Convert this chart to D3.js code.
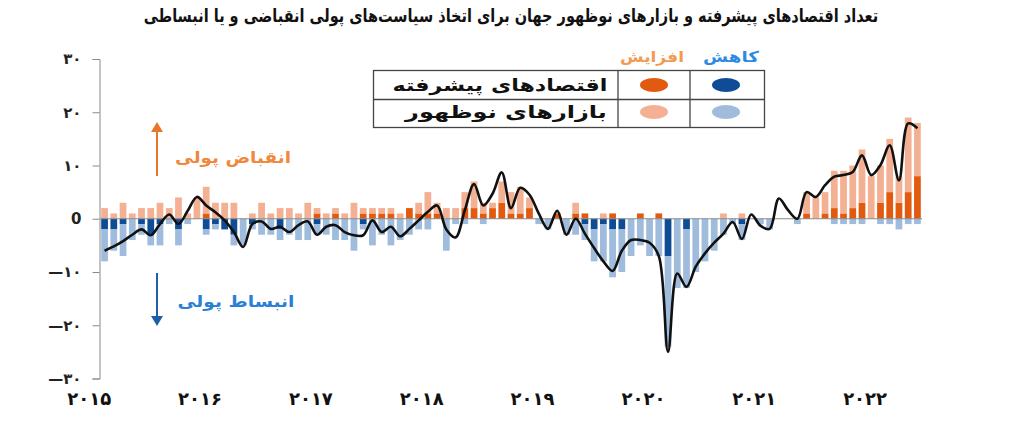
<!DOCTYPE html>
<html><head><meta charset="utf-8">
<script src="https://cdn.jsdelivr.net/npm/d3@7"></script>
<style>body{margin:0;background:#fff;} svg{display:block;}</style>
</head><body>
<svg id="c" width="1024" height="424"></svg>
<script>
// ---- data ----
const titleText = "تعداد اقتصادهای پیشرفته و بازارهای نوظهور جهان برای اتخاذ سیاست‌های پولی انقباضی و یا انبساطی";
const months = [];
for (let yr = 2015; yr <= 2022; yr++) for (let m = 1; m <= 12; m++) if (months.length < 89) months.push(yr + "-" + String(m).padStart(2, "0"));
const yearLabels = ["۲۰۱۵","۲۰۱۶","۲۰۱۷","۲۰۱۸","۲۰۱۹","۲۰۲۰","۲۰۲۱","۲۰۲۲"];
const yTicks = [30, 20, 10, 0, -10, -20, -30];
const yTickLabels = ["۳۰","۲۰","۱۰","0","—۱۰","—۲۰","—۳۰"];
const seriesNames = ["اقتصادهای پیشرفته", "بازارهای نوظهور"];
const legendHeads = ["افزایش", "کاهش"];
const annoUp = "انقباض پولی";
const annoDown = "انبساط پولی";
// advanced economies, tightening (increase)
const advInc = [
0,0,0,0,0,0,0,0,0,0,
0,1,0,0,0,0,0,0,0,0,
0,0,0,1,0,1,0,0,1,1,
1,1,0,2,1,1,1,0,0,2,
2,1,2,3,1,1,2,0,0,1,
0,1,1,0,0,1,0,0,1,0,
1,0,0,0,0,0,0,0,0,0,
0,0,0,0,0,0,1,0,1,2,
1,2,3,0,3,5,3,5,8];
// emerging markets, tightening (increase)
const emInc = [
2,1,3,1,2,2,3,2,4,1,
4,5,3,3,3,0,1,3,1,2,
2,1,3,1,1,1,1,3,1,1,
1,1,1,0,2,4,2,2,2,3,
5,2,1,4,4,5,2,0,0,0,
0,2,0,0,1,0,0,0,0,0,
0,0,0,0,0,0,0,1,0,1,
0,0,0,0,0,0,4,4,4,7,
8,8,10,8,7,10,5,14,10];
// advanced economies, easing (decrease)
const advDec = [
-2,-2,-1,0,-1,-3,-1,0,-2,0,
0,-2,-1,-2,-3,0,-1,0,0,-2,
0,0,0,-1,0,0,0,0,-1,0,
0,0,0,0,0,0,0,0,0,0,
0,0,0,0,0,0,0,0,0,0,
0,0,-1,-2,-1,-2,-2,0,0,0,
0,-7,0,-2,0,0,0,0,0,-1,
0,0,0,0,0,0,0,0,0,0,
0,0,0,0,0,0,0,0,0];
// emerging markets, easing (decrease)
const emDec = [
-6,-4,-6,-4,-2,-2,-4,-1,-3,-1,
0,-1,-1,0,-2,-5,-1,-3,-3,-2,
-3,-4,-4,-2,-3,-4,-4,-6,-1,-5,
-3,-5,-4,-3,-2,-2,0,-6,-1,-1,
0,-1,0,0,0,0,0,-1,-2,0,
-3,-3,-3,-6,-7,-9,-8,-7,-5,-7,
-7,-17,-13,-11,-10,-8,-6,-3,-1,-3,
0,-1,-2,0,0,-1,0,0,0,-1,
-1,-1,-1,0,-1,-1,-2,-1,-1];
// net trend line
const netTrend = [
-6,-5.2,-4.2,-3,-2,-3.1,-1,0.8,-1,1.5,
4.1,2.5,1.2,-0.3,-2.5,-5.3,-1,-0.5,-1.9,-1.5,
-2.5,-1.2,-0.5,-3,-1.5,-1.2,-2.5,-3.1,-3.1,-0.3,
-2.5,-1.5,-3.3,-1.9,-0.3,1.3,2.5,-2,-3.5,1.6,
6.5,2.5,4.7,8.7,2,5.8,4.5,1,-1.9,1.5,
-3,0,-2.8,-5.5,-8,-9.8,-6,-4,-4,-4.5,
-7,-25,-10.3,-12.8,-9,-6.5,-4.5,-2.8,-0.6,-3.8,
0.8,-1.3,-1.9,3.8,1.6,0,5,4.1,6.3,7.9,
8.2,8.8,11.9,8.2,10.1,13.8,7.2,17.9,17];

const colors = {advInc:"#e25a10", emInc:"#f4b092", advDec:"#0e4d96", emDec:"#9fbcdc"};
const FONT = "'DejaVu Sans', sans-serif";

const svg = d3.select("#c");
svg.append("rect").attr("width",1024).attr("height",424).attr("fill","#fff");

const x = d3.scaleBand().domain(d3.range(months.length)).range([100, 922]).paddingInner(0.27).paddingOuter(0.13);
const y = d3.scaleLinear().domain([-30, 30]).range([378.5, 59]);
const bw = x.bandwidth();

function fitText(sel, str, cx, cy, w, size, color) {
  const t = sel.append("text").text(str)
    .attr("text-anchor","middle").attr("dominant-baseline","central")
    .attr("font-family", FONT).attr("font-weight","bold").attr("font-size", size)
    .attr("fill", color);
  const len = t.node().getComputedTextLength();
  t.attr("transform", `translate(${cx},${cy}) scale(${w/len},1)`);
  return t;
}

// title
fitText(svg, titleText, 511, 16, 735, 18, "#111");

// bars
const gBars = svg.append("g");
const idx = d3.range(months.length);
function bars(cls, y0f, y1f, color) {
  gBars.selectAll("rect." + cls).data(idx).join("rect").attr("class", cls)
    .attr("x", i => x(i)).attr("width", bw)
    .attr("y", i => Math.min(y(y0f(i)), y(y1f(i))))
    .attr("height", i => Math.abs(y(y0f(i)) - y(y1f(i))))
    .attr("fill", color);
}
bars("ai", i => 0, i => advInc[i], colors.advInc);
bars("ei", i => advInc[i], i => advInc[i] + emInc[i], colors.emInc);
bars("ad", i => 0, i => advDec[i], colors.advDec);
bars("ed", i => advDec[i], i => advDec[i] + emDec[i], colors.emDec);

// zero line
svg.append("line").attr("x1", 100).attr("x2", 922).attr("y1", y(0)).attr("y2", y(0))
  .attr("stroke", "#8a8a8a").attr("stroke-width", 1);

// trend line
svg.append("path").datum(netTrend)
  .attr("d", d3.line().x((d, i) => x(i) + bw / 2).y(d => y(d)).curve(d3.curveCatmullRom.alpha(0.5)))
  .attr("fill","none").attr("stroke","#111").attr("stroke-width",2.6).attr("stroke-linejoin","round");

// y axis
const yAxis = svg.append("g").attr("transform","translate(99.5,0)")
  .call(d3.axisLeft(y).tickValues(yTicks).tickSize(7).tickPadding(11)
    .tickFormat(d => yTickLabels[yTicks.indexOf(d)]));
yAxis.select(".domain").attr("stroke","#8a8a8a");
yAxis.selectAll(".tick line").attr("stroke","#8a8a8a");
yAxis.selectAll(".tick text").attr("font-family", FONT).attr("font-weight","bold")
  .attr("font-size", 15).attr("fill","#222");

// x year labels
svg.append("g").selectAll("text").data(yearLabels).join("text")
  .attr("x", (d, k) => x(k * 12) - 12).attr("y", 398)
  .attr("text-anchor","middle").attr("dominant-baseline","central")
  .attr("font-family", FONT).attr("font-weight","bold").attr("font-size", 18).attr("fill","#111")
  .text(d => d);

// legend table
const lg = svg.append("g");
lg.append("rect").attr("x", 373.5).attr("y", 70.5).attr("width", 391).attr("height", 57)
  .attr("fill","#fff").attr("stroke","#444").attr("stroke-width",1.3);
[618, 690].forEach(v => lg.append("line").attr("x1", v).attr("x2", v).attr("y1", 70.5).attr("y2", 127.5).attr("stroke","#444").attr("stroke-width",1.3));
lg.append("line").attr("x1", 373.5).attr("x2", 764.5).attr("y1", 99.5).attr("y2", 99.5).attr("stroke","#444").attr("stroke-width",1.3);
fitText(lg, seriesNames[0], 500, 85, 215, 17, "#111");
fitText(lg, seriesNames[1], 506, 112, 202, 17, "#111");
fitText(lg, legendHeads[0], 652, 57, 64, 15, "#f39a4f");
fitText(lg, legendHeads[1], 731, 57, 56, 15, "#2d8ae4");
const dots = [[654,85,colors.advInc],[726,85,colors.advDec],[654,112,colors.emInc],[726,112,colors.emDec]];
lg.selectAll("ellipse").data(dots).join("ellipse")
  .attr("cx", d => d[0]).attr("cy", d => d[1]).attr("rx", 14).attr("ry", 7).attr("fill", d => d[2]);

// annotations
const ga = svg.append("g");
ga.append("line").attr("x1",157).attr("x2",157).attr("y1",176).attr("y2",130).attr("stroke","#e8772c").attr("stroke-width",2);
ga.append("path").attr("d","M151,132 L157,122 L163,132 Z").attr("fill","#e8772c");
ga.append("line").attr("x1",157).attr("x2",157).attr("y1",273).attr("y2",318).attr("stroke","#1f5fa8").attr("stroke-width",2);
ga.append("path").attr("d","M151,316 L157,326 L163,316 Z").attr("fill","#1f5fa8");
fitText(ga, annoUp, 233, 157, 116, 16, "#f0883e");
fitText(ga, annoDown, 236, 301, 117, 16, "#2b80d6");
</script>
</body></html>
